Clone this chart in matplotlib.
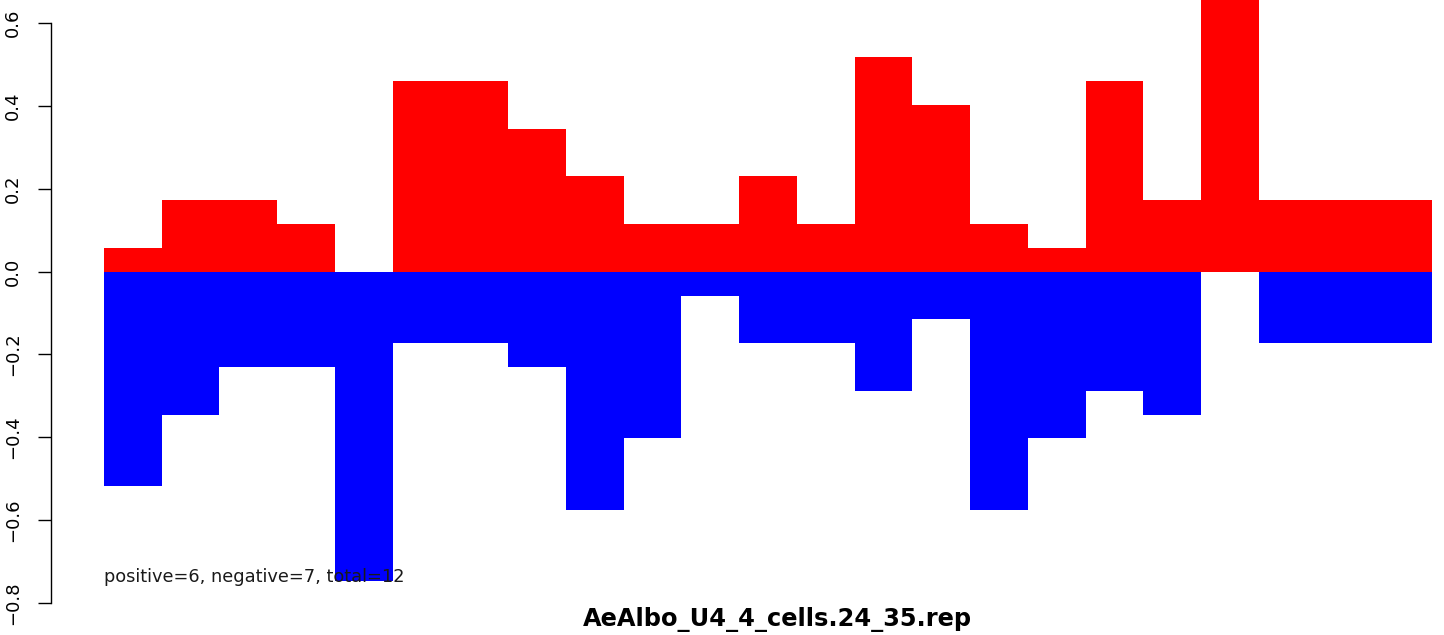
#!/usr/bin/env python3

import matplotlib
matplotlib.use("Agg")
import matplotlib.pyplot as plt

# data (23 consecutive bins, no spacing)
pos_vals = [0.058, 0.172, 0.172, 0.115, 0.0, 0.46, 0.46, 0.345, 0.23, 0.115,
            0.115, 0.23, 0.115, 0.517, 0.402, 0.115, 0.058, 0.46, 0.172, 0.69,
            0.172, 0.172, 0.172]
neg_vals = [-0.517, -0.345, -0.23, -0.23, -0.747, -0.172, -0.172, -0.23, -0.575,
            -0.402, -0.058, -0.172, -0.172, -0.287, -0.115, -0.575, -0.402,
            -0.287, -0.345, 0.0, -0.172, -0.172, -0.172]
y_ticks = [-0.8, -0.6, -0.4, -0.2, 0.0, 0.2, 0.4, 0.6]
summary = "positive=6, negative=7, total=12"
title = "AeAlbo_U4_4_cells.24_35.rep"

plt.rcParams['font.family'] = ['DejaVu Sans']

W, H = 1444, 635
fig = plt.figure(figsize=(W / 100, H / 100), dpi=100)
ax = fig.add_axes([0, 0, 1, 1])

# pixel mapping: bars span 104..1432 px, y=0 at 271.6 px, 414.3 px per unit
bw = (1432 - 104) / len(pos_vals)
ax.set_xlim(-104 / bw, (W - 104) / bw)
ax.set_ylim((271.6 - H) / 414.3, 271.6 / 414.3)

x = list(range(len(pos_vals)))
ax.bar(x, pos_vals, width=1.0, align='edge', color='#ff0000', linewidth=0)
ax.bar(x, neg_vals, width=1.0, align='edge', color='#0000ff', linewidth=0)

ax.text(0, -0.749, summary, fontsize=12.8, ha='left', va='baseline', color='#1a1a1a')

for s in ['top', 'right', 'bottom']:
    ax.spines[s].set_visible(False)
ax.spines['left'].set_position(('data', (50.5 - 104) / bw))
ax.spines['left'].set_bounds(-0.8, 0.6)
ax.spines['left'].set_linewidth(1.0)
ax.set_xticks([])
ax.set_yticks(y_ticks)
ax.set_yticklabels([f"{v:.1f}".replace("-", "\u2212") for v in y_ticks],
                   rotation=90, va='center', fontsize=13)
ax.tick_params(axis='y', direction='out', length=9.4, width=1.0, pad=11)
ax.patch.set_alpha(0)

fig.text(777 / W, 1 - 626 / H, title, ha='center', va='baseline',
         fontsize=17.4, fontweight='bold')

fig.savefig("out.png", dpi=100)
